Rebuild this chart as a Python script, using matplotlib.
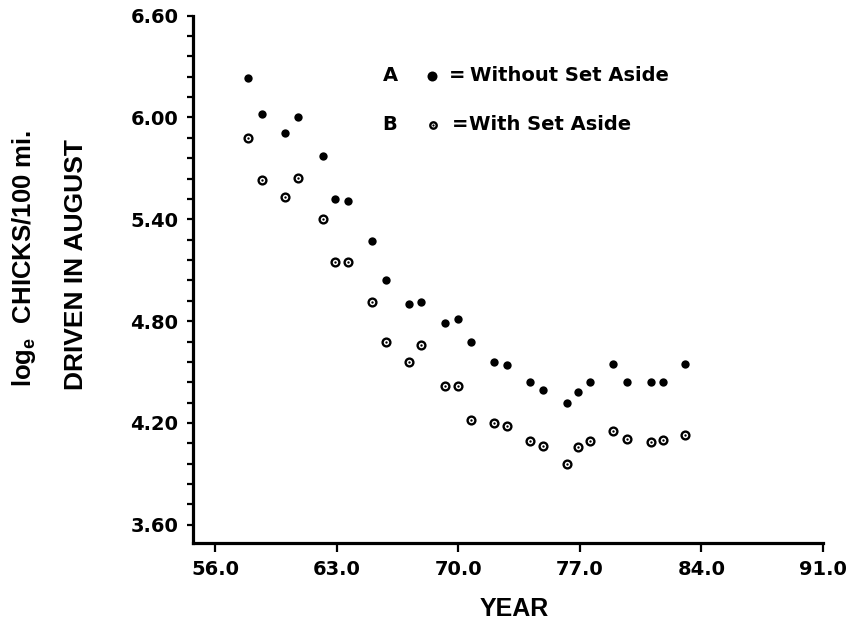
import numpy as np
import matplotlib
matplotlib.use("Agg")
import matplotlib.pyplot as plt
from matplotlib.ticker import FixedLocator

plt.rcParams['mathtext.fontset'] = 'custom'
plt.rcParams['mathtext.rm'] = 'Liberation Sans:bold'
plt.rcParams['mathtext.bf'] = 'Liberation Sans:bold'
plt.rcParams['mathtext.it'] = 'Liberation Sans:bold'

# Survey year (x) for each observation
years = [57.9, 58.7, 60.0, 60.8, 62.2, 62.9, 63.65, 65.05, 65.83, 67.17,
         67.88, 69.25, 70.0, 70.75, 72.06, 72.79, 74.15, 74.88, 76.25, 76.9,
         77.62, 78.94, 79.7, 81.1, 81.82, 83.07]

# A: log_e chicks per 100 miles driven, without set-aside acreage
without_set_aside = [6.23, 6.02, 5.91, 6.00, 5.77, 5.52, 5.51, 5.275, 5.04, 4.90,
                     4.91, 4.79, 4.81, 4.68, 4.56, 4.54, 4.44, 4.395, 4.32, 4.38,
                     4.44, 4.55, 4.44, 4.44, 4.44, 4.55]

# B: same index, with set-aside acreage
with_set_aside = [5.88, 5.63, 5.53, 5.645, 5.40, 5.15, 5.15, 4.91, 4.68, 4.56,
                  4.66, 4.42, 4.42, 4.22, 4.20, 4.185, 4.095, 4.065, 3.96, 4.06,
                  4.095, 4.155, 4.105, 4.09, 4.10, 4.13]

x_ticks = [56.0, 63.0, 70.0, 77.0, 84.0, 91.0]
x_tick_labels = ["56.0", "63.0", "70.0", "77.0", "84.0", "91.0"]
y_ticks = [3.60, 4.20, 4.80, 5.40, 6.00, 6.60]
y_tick_labels = ["3.60", "4.20", "4.80", "5.40", "6.00", "6.60"]

TICK_FONT = dict(family="DejaVu Sans", weight="bold", size=14)
LABEL_FONT = dict(family="Liberation Sans", weight="bold")

fig = plt.figure(figsize=(8.55, 6.27), dpi=100)
ax = fig.add_axes([0.22573, 0.13397, 0.73661, 0.84115])

# Series A: solid dots
ax.plot(years, without_set_aside, linestyle="none", marker="o", ms=6,
        mfc="black", mec="black", mew=0, clip_on=False, zorder=3)
# Series B: ring with a centre dot
ax.plot(years, with_set_aside, linestyle="none", marker="o", ms=5.6,
        mfc="white", mec="black", mew=1.7, clip_on=False, zorder=3)
ax.plot(years, with_set_aside, linestyle="none", marker="o", ms=1.7,
        mfc="black", mec="black", mew=0, clip_on=False, zorder=4)

ax.set_xlim(54.73, 91.0)
ax.set_ylim(3.493, 6.60)

for side in ("top", "right"):
    ax.spines[side].set_visible(False)
for side in ("left", "bottom"):
    ax.spines[side].set_linewidth(2.3)
    ax.spines[side].set_capstyle("projecting")

ax.set_xticks(x_ticks)
ax.set_xticklabels(x_tick_labels, fontdict=TICK_FONT)
ax.set_yticks(y_ticks)
ax.set_yticklabels(y_tick_labels, fontdict=TICK_FONT)
minor_y = [round(v, 2) for v in np.arange(3.60, 6.601, 0.12)]
minor_y = [v for v in minor_y if all(abs(v - t) > 1e-6 for t in y_ticks)]
ax.yaxis.set_minor_locator(FixedLocator(minor_y))

ax.tick_params(axis="x", which="major", direction="out", length=6.5, width=1.6, pad=6)
ax.tick_params(axis="y", which="major", direction="out", length=4.5, width=1.6, pad=6)
ax.tick_params(axis="y", which="minor", direction="out", length=4, width=1.6)

# Key in the upper part of the plot
ty_a, ty_b = 0.8855, 0.7926
ax.text(0.3128, ty_a, "A", transform=ax.transAxes, ha="center", va="center", **TICK_FONT)
ax.plot([0.3795], [ty_a], transform=ax.transAxes, marker="o", ms=7.2,
        mfc="black", mec="black", mew=0, clip_on=False)
ax.text(0.4195, ty_a, "=", transform=ax.transAxes, ha="center", va="center", **TICK_FONT)
ax.text(0.4398, ty_a, "Without Set Aside", transform=ax.transAxes,
        ha="left", va="center", **TICK_FONT)

ax.text(0.3128, ty_b, "B", transform=ax.transAxes, ha="center", va="center", **TICK_FONT)
ax.plot([0.381], [ty_b], transform=ax.transAxes, marker="o", ms=4.6,
        mfc="white", mec="black", mew=1.7, clip_on=False)
ax.plot([0.381], [ty_b], transform=ax.transAxes, marker="o", ms=1.6,
        mfc="black", mec="black", mew=0, clip_on=False)
ax.text(0.4235, ty_b, "=", transform=ax.transAxes, ha="center", va="center", **TICK_FONT)
ax.text(0.4388, ty_b, "With Set Aside", transform=ax.transAxes,
        ha="left", va="center", **TICK_FONT)

# Axis titles
fig.text(514 / 855, 1 - 609 / 627, "YEAR", ha="center", va="center", size=18, **LABEL_FONT)
fig.text(76 / 855, 1 - 265 / 627, "DRIVEN IN AUGUST", rotation=90,
         ha="center", va="center", size=19, **LABEL_FONT)
fig.text(24 / 855, 1 - 258 / 627, r"log$_{e}$  CHICKS/100 mi.", rotation=90,
         ha="center", va="center", size=18.5, **LABEL_FONT)

fig.savefig("out.png", dpi=100, facecolor="white")
